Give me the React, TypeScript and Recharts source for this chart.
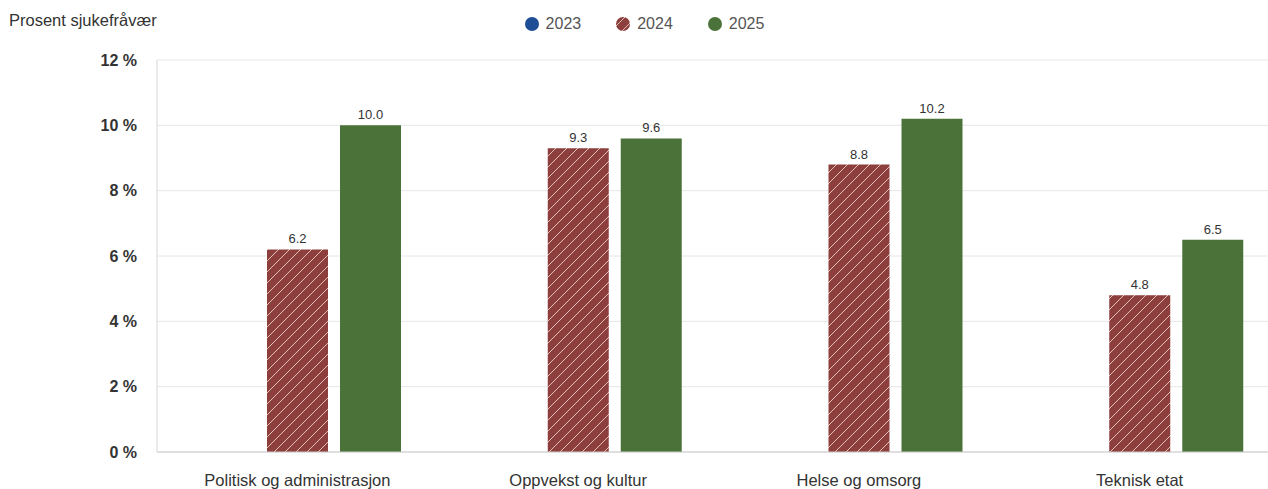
import { BarChart, Bar, XAxis, YAxis, CartesianGrid, Legend, LabelList } from "recharts"

const categories = ["Politisk og administrasjon", "Oppvekst og kultur", "Helse og omsorg", "Teknisk etat"]
const values2023: (number | null)[] = [null, null, null, null]
const values2024 = [6.2, 9.3, 8.8, 4.8]
const values2025 = [10.0, 9.6, 10.2, 6.5]
const yTicks = [0, 2, 4, 6, 8, 10, 12]

const COLOR_2023 = "#1d4e96"
const COLOR_2024 = "#8c3f3d"
const COLOR_2025 = "#4b7339"
const FONT = '"Liberation Sans", Arial, sans-serif'

const data = categories.map((name, i) => ({
  name,
  y2023: values2023[i],
  y2024: values2024[i],
  y2025: values2025[i],
}))

const legendItems = [
  { label: "2023", fill: COLOR_2023 },
  { label: "2024", fill: "url(#stripes)" },
  { label: "2025", fill: COLOR_2025 },
]

// legend box is ~17px tall and recharts pushes the plot down by that much
const LEGEND_H = 17

function LegendContent() {
  return (
    <div
      style={{
        display: "flex",
        justifyContent: "center",
        gap: 34,
        paddingLeft: 20,
        fontFamily: FONT,
        height: LEGEND_H,
      }}
    >
      {legendItems.map((item) => (
        <div key={item.label} style={{ display: "flex", alignItems: "center" }}>
          <svg width={16} height={16} style={{ marginRight: 6 }}>
            <circle cx={8} cy={8} r={7} fill={item.fill} />
          </svg>
          <span style={{ fontSize: 16, color: "#555" }}>{item.label}</span>
        </div>
      ))}
    </div>
  )
}

export default function App() {
  return (
    <div
      style={{
        position: "absolute",
        top: 0,
        left: 0,
        width: 1268,
        height: 489,
        overflow: "hidden",
        background: "#fff",
        fontFamily: FONT,
      }}
    >
      <div style={{ position: "absolute", left: 9, top: 11, fontSize: 16.5, color: "#333" }}>
        Prosent sjukefråvær
      </div>
      <BarChart
        width={1294}
        height={489}
        data={data}
        margin={{ top: 60 - LEGEND_H, right: 14, bottom: 0, left: 0 }}
        barCategoryGap={37}
        barGap={12}
      >
        <defs>
          <pattern id="stripes" patternUnits="userSpaceOnUse" width={11} height={11}>
            <rect width={11} height={11} fill={COLOR_2024} />
            <path
              d="M-1,1 l2,-2 M0,11 l11,-11 M10,12 l2,-2"
              stroke="#f3d6cf"
              strokeWidth={1}
              opacity={0.85}
            />
          </pattern>
        </defs>
        <CartesianGrid vertical={false} stroke="#e6e6e6" />
        <XAxis
          dataKey="name"
          height={37}
          tickLine={false}
          axisLine={{ stroke: "#cccccc" }}
          tickMargin={16}
          tick={{ fontSize: 16.5, fill: "#333", fontFamily: FONT }}
          interval={0}
        />
        <YAxis
          width={157}
          domain={[0, 12]}
          ticks={yTicks}
          tickLine={false}
          axisLine={{ stroke: "#d6d6d6" }}
          tickMargin={14}
          tickFormatter={(v: number) => `${v} %`}
          tick={{ fontSize: 16, fill: "#333", fontWeight: "bold", fontFamily: FONT }}
        />
        <Legend
          verticalAlign="top"
          height={LEGEND_H}
          content={<LegendContent />}
          wrapperStyle={{ top: 15, left: 0, width: 1268 }}
        />
        <Bar dataKey="y2023" name="2023" fill={COLOR_2023} isAnimationActive={false} />
        <Bar dataKey="y2024" name="2024" fill="url(#stripes)" isAnimationActive={false}>
          <LabelList
            dataKey="y2024"
            position="top"
            offset={6}
            formatter={(v: number) => v.toFixed(1)}
            style={{ fontSize: 13, fill: "#333", fontFamily: FONT }}
          />
        </Bar>
        <Bar dataKey="y2025" name="2025" fill={COLOR_2025} isAnimationActive={false}>
          <LabelList
            dataKey="y2025"
            position="top"
            offset={6}
            formatter={(v: number) => v.toFixed(1)}
            style={{ fontSize: 13, fill: "#333", fontFamily: FONT }}
          />
        </Bar>
      </BarChart>
    </div>
  )
}
